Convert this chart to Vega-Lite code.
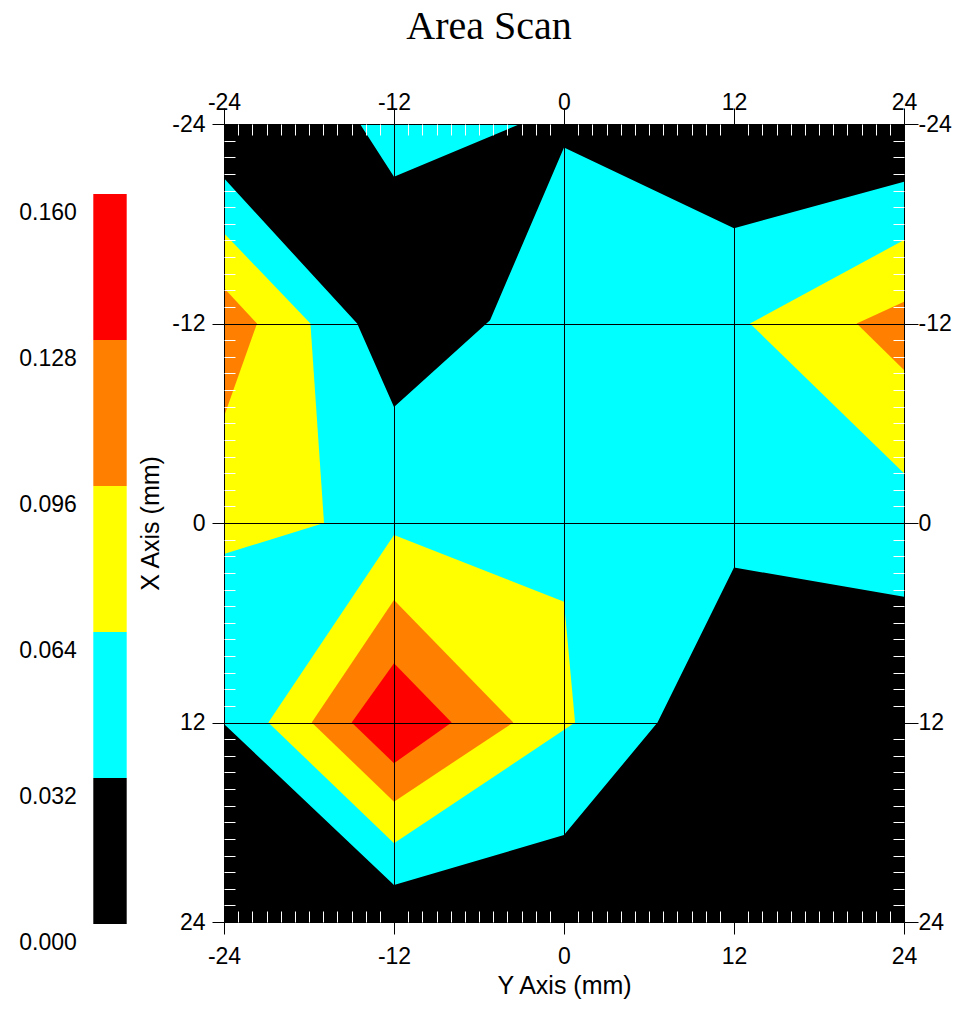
{
  "$schema": "https://vega.github.io/schema/vega-lite/v6.json",
  "width": 680,
  "height": 798,
  "autosize": {"type": "none"},
  "padding": {"left": 224, "top": 124, "right": 54, "bottom": 88},
  "background": "#ffffff",
  "title": {"text": "Area Scan", "font": "Liberation Serif", "fontSize": 40, "fontWeight": "normal", "color": "#000000", "anchor": "middle", "frame": "group", "dx": -75, "offset": 44},
  "config": {
    "view": {"stroke": null},
    "axis": {"labelFont": "Liberation Sans", "labelFontSize": 23, "labelColor": "#000000", "titleFont": "Liberation Sans", "titleFontSize": 25, "titleFontWeight": "normal", "titleColor": "#000000", "tickColor": "#000000", "domainColor": "#000000", "gridColor": "#000000", "gridOpacity": 1, "domainWidth": 1, "tickWidth": 1, "gridWidth": 1, "labelOverlap": false, "labelBound": false, "labelFlush": false}
  },
  "datasets": {
    "poly": [
      {"p": "c", "band": "c", "i": 0, "x": -24, "y": -24},
      {"p": "c", "band": "c", "i": 1, "x": 24, "y": -24},
      {"p": "c", "band": "c", "i": 2, "x": 24, "y": 24},
      {"p": "c", "band": "c", "i": 3, "x": -24, "y": 24},
      {"p": "k1", "band": "k", "i": 0, "x": -24, "y": -24},
      {"p": "k1", "band": "k", "i": 1, "x": -14.4, "y": -24},
      {"p": "k1", "band": "k", "i": 2, "x": -12, "y": -20.83},
      {"p": "k1", "band": "k", "i": 3, "x": -3.1, "y": -24},
      {"p": "k1", "band": "k", "i": 4, "x": 24, "y": -24},
      {"p": "k1", "band": "k", "i": 5, "x": 24, "y": -20.53},
      {"p": "k1", "band": "k", "i": 6, "x": 12, "y": -17.73},
      {"p": "k1", "band": "k", "i": 7, "x": 0, "y": -22.59},
      {"p": "k1", "band": "k", "i": 8, "x": -5.22, "y": -12.2},
      {"p": "k1", "band": "k", "i": 9, "x": -12, "y": -6.98},
      {"p": "k1", "band": "k", "i": 10, "x": -14.6, "y": -12},
      {"p": "k1", "band": "k", "i": 11, "x": -24, "y": -20.73},
      {"p": "k2", "band": "k", "i": 0, "x": -24, "y": 12.09},
      {"p": "k2", "band": "k", "i": 1, "x": -12, "y": 21.77},
      {"p": "k2", "band": "k", "i": 2, "x": 0, "y": 18.77},
      {"p": "k2", "band": "k", "i": 3, "x": 6.6, "y": 12},
      {"p": "k2", "band": "k", "i": 4, "x": 12, "y": 2.68},
      {"p": "k2", "band": "k", "i": 5, "x": 24, "y": 4.43},
      {"p": "k2", "band": "k", "i": 6, "x": 24, "y": 24},
      {"p": "k2", "band": "k", "i": 7, "x": -24, "y": 24},
      {"p": "y1", "band": "y", "i": 0, "x": -24, "y": -17.43},
      {"p": "y1", "band": "y", "i": 1, "x": -17.9, "y": -12},
      {"p": "y1", "band": "y", "i": 2, "x": -16.94, "y": 0},
      {"p": "y1", "band": "y", "i": 3, "x": -24, "y": 1.86},
      {"p": "y2", "band": "y", "i": 0, "x": 24, "y": -17.02},
      {"p": "y2", "band": "y", "i": 1, "x": 13.13, "y": -12},
      {"p": "y2", "band": "y", "i": 2, "x": 24, "y": -2.99},
      {"p": "y3", "band": "y", "i": 0, "x": -12, "y": 0.72},
      {"p": "y3", "band": "y", "i": 1, "x": 0, "y": 4.73},
      {"p": "y3", "band": "y", "i": 2, "x": 0.78, "y": 12},
      {"p": "y3", "band": "y", "i": 3, "x": -12, "y": 19.27},
      {"p": "y3", "band": "y", "i": 4, "x": -20.87, "y": 12},
      {"p": "o1", "band": "o", "i": 0, "x": -24, "y": -14.14},
      {"p": "o1", "band": "o", "i": 1, "x": -21.67, "y": -12},
      {"p": "o1", "band": "o", "i": 2, "x": -24, "y": -6.4},
      {"p": "o2", "band": "o", "i": 0, "x": 24, "y": -13.31},
      {"p": "o2", "band": "o", "i": 1, "x": 20.66, "y": -12},
      {"p": "o2", "band": "o", "i": 2, "x": 24, "y": -9.2},
      {"p": "o3", "band": "o", "i": 0, "x": -12, "y": 4.63},
      {"p": "o3", "band": "o", "i": 1, "x": -3.58, "y": 12},
      {"p": "o3", "band": "o", "i": 2, "x": -12, "y": 16.76},
      {"p": "o3", "band": "o", "i": 3, "x": -17.81, "y": 12},
      {"p": "r", "band": "r", "i": 0, "x": -12, "y": 8.44},
      {"p": "r", "band": "r", "i": 1, "x": -7.93, "y": 12},
      {"p": "r", "band": "r", "i": 2, "x": -12, "y": 14.45},
      {"p": "r", "band": "r", "i": 3, "x": -14.99, "y": 12}
    ],
    "bar": [
      {"band": "k", "lo": 0, "hi": 0.032},
      {"band": "c", "lo": 0.032, "hi": 0.064},
      {"band": "y", "lo": 0.064, "hi": 0.096},
      {"band": "o", "lo": 0.096, "hi": 0.128},
      {"band": "r", "lo": 0.128, "hi": 0.16}
    ]
  },
  "layer": [
    {
      "data": {"name": "poly"},
      "layer": [
        {
          "transform": [{"filter": "datum.band == 'c'"}],
          "mark": {"type": "line", "filled": true, "interpolate": "linear-closed", "strokeWidth": 0},
          "encoding": {
            "x": {"field": "x", "type": "quantitative", "scale": {"domain": [-24, 24], "nice": false, "zero": false},
                  "axis": {"orient": "bottom", "values": [-24, -12, 0, 12, 24], "labelExpr": "'' + datum.value", "tickSize": 12, "labelPadding": 11, "grid": true, "zindex": 1, "title": "Y Axis (mm)", "titlePadding": 5}},
            "y": {"field": "y", "type": "quantitative", "scale": {"domain": [-24, 24], "nice": false, "zero": false, "reverse": true},
                  "axis": {"orient": "left", "values": [-24, -12, 0, 12, 24], "labelExpr": "'' + datum.value", "tickSize": 12, "labelPadding": 7, "grid": true, "zindex": 1, "title": "X Axis (mm)", "titlePadding": 8}},
            "order": {"field": "i", "type": "quantitative"},
            "detail": {"field": "p", "type": "nominal"},
            "color": {"field": "band", "type": "nominal", "scale": {"domain": ["k", "c", "y", "o", "r"], "range": ["#000000", "#00ffff", "#ffff00", "#ff8000", "#ff0000"]}, "legend": null}
          }
        },
        {
          "transform": [{"filter": "datum.band == 'k'"}],
          "mark": {"type": "line", "filled": true, "interpolate": "linear-closed", "strokeWidth": 0},
          "encoding": {
            "x": {"field": "x", "type": "quantitative", "scale": {"domain": [-24, 24], "nice": false, "zero": false},
                  "axis": {"orient": "top", "values": [-24, -12, 0, 12, 24], "labelExpr": "'' + datum.value", "tickSize": 16, "labelPadding": -6, "grid": false, "zindex": 1, "title": null}},
            "y": {"field": "y", "type": "quantitative", "scale": {"domain": [-24, 24], "nice": false, "zero": false, "reverse": true},
                  "axis": {"orient": "right", "values": [-24, -12, 0, 12, 24], "labelExpr": "'' + datum.value", "tickSize": 14, "labelPadding": 0, "grid": false, "zindex": 1, "title": null}},
            "order": {"field": "i", "type": "quantitative"},
            "detail": {"field": "p", "type": "nominal"},
            "color": {"field": "band", "type": "nominal", "scale": {"domain": ["k", "c", "y", "o", "r"], "range": ["#000000", "#00ffff", "#ffff00", "#ff8000", "#ff0000"]}, "legend": null}
          }
        },
        {
          "transform": [{"filter": "datum.band == 'y'"}],
          "mark": {"type": "line", "filled": true, "interpolate": "linear-closed", "strokeWidth": 0},
          "encoding": {
            "x": {"field": "x", "type": "quantitative", "scale": {"domain": [-24, 24], "nice": false, "zero": false},
                  "axis": {"orient": "bottom", "values": [-23, -22, -21, -20, -19, -18, -17, -16, -15, -14, -13, -11, -10, -9, -8, -7, -6, -5, -4, -3, -2, -1, 1, 2, 3, 4, 5, 6, 7, 8, 9, 10, 11, 13, 14, 15, 16, 17, 18, 19, 20, 21, 22, 23], "offset": -11, "tickSize": 11, "tickColor": "#ffffff", "labels": false, "domain": false, "grid": false, "zindex": 1, "title": null}},
            "y": {"field": "y", "type": "quantitative", "scale": {"domain": [-24, 24], "nice": false, "zero": false, "reverse": true},
                  "axis": {"orient": "left", "values": [-23, -22, -21, -20, -19, -18, -17, -16, -15, -14, -13, -11, -10, -9, -8, -7, -6, -5, -4, -3, -2, -1, 1, 2, 3, 4, 5, 6, 7, 8, 9, 10, 11, 13, 14, 15, 16, 17, 18, 19, 20, 21, 22, 23], "offset": -11, "tickSize": 11, "tickColor": "#ffffff", "labels": false, "domain": false, "grid": false, "zindex": 1, "title": null}},
            "order": {"field": "i", "type": "quantitative"},
            "detail": {"field": "p", "type": "nominal"},
            "color": {"field": "band", "type": "nominal", "scale": {"domain": ["k", "c", "y", "o", "r"], "range": ["#000000", "#00ffff", "#ffff00", "#ff8000", "#ff0000"]}, "legend": null}
          }
        },
        {
          "transform": [{"filter": "datum.band == 'o'"}],
          "mark": {"type": "line", "filled": true, "interpolate": "linear-closed", "strokeWidth": 0},
          "encoding": {
            "x": {"field": "x", "type": "quantitative", "scale": {"domain": [-24, 24], "nice": false, "zero": false},
                  "axis": {"orient": "top", "values": [-23, -22, -21, -20, -19, -18, -17, -16, -15, -14, -13, -11, -10, -9, -8, -7, -6, -5, -4, -3, -2, -1, 1, 2, 3, 4, 5, 6, 7, 8, 9, 10, 11, 13, 14, 15, 16, 17, 18, 19, 20, 21, 22, 23], "offset": -11, "tickSize": 11, "tickColor": "#ffffff", "labels": false, "domain": false, "grid": false, "zindex": 1, "title": null}},
            "y": {"field": "y", "type": "quantitative", "scale": {"domain": [-24, 24], "nice": false, "zero": false, "reverse": true},
                  "axis": {"orient": "right", "values": [-23, -22, -21, -20, -19, -18, -17, -16, -15, -14, -13, -11, -10, -9, -8, -7, -6, -5, -4, -3, -2, -1, 1, 2, 3, 4, 5, 6, 7, 8, 9, 10, 11, 13, 14, 15, 16, 17, 18, 19, 20, 21, 22, 23], "offset": -11, "tickSize": 11, "tickColor": "#ffffff", "labels": false, "domain": false, "grid": false, "zindex": 1, "title": null}},
            "order": {"field": "i", "type": "quantitative"},
            "detail": {"field": "p", "type": "nominal"},
            "color": {"field": "band", "type": "nominal", "scale": {"domain": ["k", "c", "y", "o", "r"], "range": ["#000000", "#00ffff", "#ffff00", "#ff8000", "#ff0000"]}, "legend": null}
          }
        },
        {
          "transform": [{"filter": "datum.band == 'r'"}],
          "mark": {"type": "line", "filled": true, "interpolate": "linear-closed", "strokeWidth": 0},
          "encoding": {
            "x": {"field": "x", "type": "quantitative", "scale": {"domain": [-24, 24], "nice": false, "zero": false}, "axis": null},
            "y": {"field": "y", "type": "quantitative", "scale": {"domain": [-24, 24], "nice": false, "zero": false, "reverse": true}, "axis": null},
            "order": {"field": "i", "type": "quantitative"},
            "detail": {"field": "p", "type": "nominal"},
            "color": {"field": "band", "type": "nominal", "scale": {"domain": ["k", "c", "y", "o", "r"], "range": ["#000000", "#00ffff", "#ffff00", "#ff8000", "#ff0000"]}, "legend": null}
          }
        }
      ],
      "resolve": {"axis": {"x": "independent", "y": "independent"}}
    },
    {
      "data": {"name": "bar"},
      "mark": {"type": "rect"},
      "encoding": {
        "x": {"datum": 0, "type": "quantitative", "scale": {"domain": [0, 1], "range": [-130.7, -97.3], "nice": false, "zero": false}, "axis": null},
        "x2": {"datum": 1},
        "y": {"field": "lo", "type": "quantitative", "scale": {"domain": [0, 0.16], "range": [800, 70], "nice": false, "zero": false},
              "axis": {"orient": "left", "offset": 130.7, "values": [0, 0.032, 0.064, 0.096, 0.128, 0.16], "format": ".3f", "domain": false, "ticks": false, "grid": false, "labelPadding": 17, "labelOffset": 18, "labelFontSize": 23, "title": null}},
        "y2": {"field": "hi"},
        "color": {"field": "band", "type": "nominal", "scale": {"domain": ["k", "c", "y", "o", "r"], "range": ["#000000", "#00ffff", "#ffff00", "#ff8000", "#ff0000"]}, "legend": null}
      }
    }
  ],
  "resolve": {"scale": {"x": "independent", "y": "independent"}}
}
